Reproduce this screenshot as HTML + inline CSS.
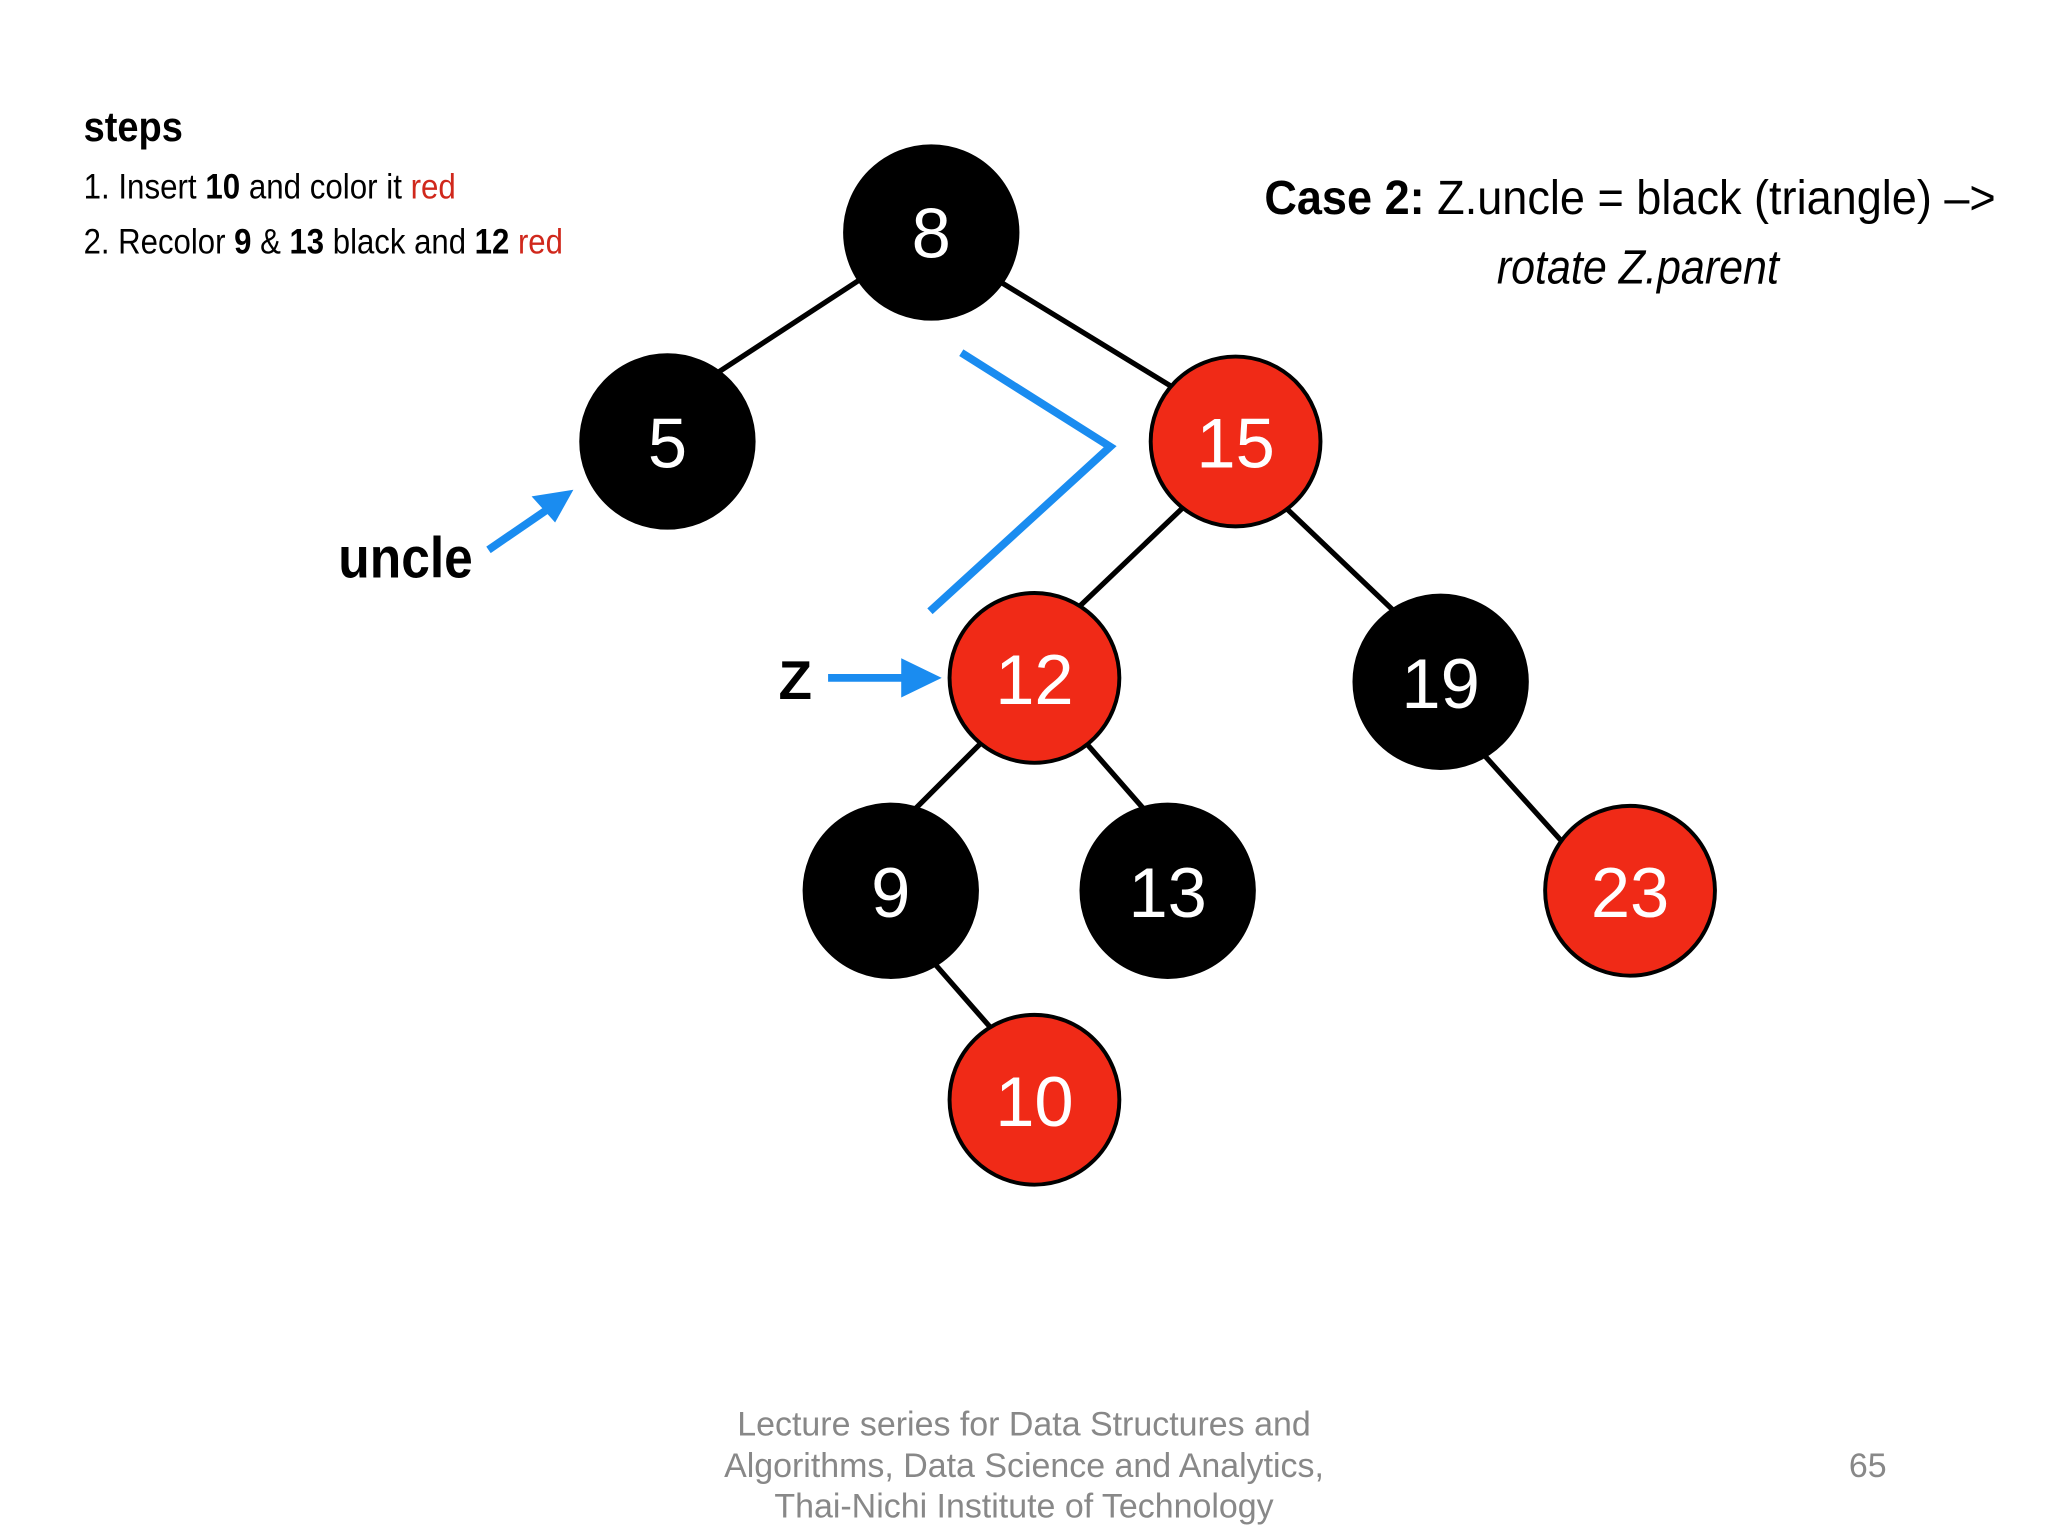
<!DOCTYPE html>
<html><head><meta charset="utf-8"><style>
html,body{margin:0;padding:0;background:#fff;}
svg{display:block;}
</style></head><body>
<svg width="2048" height="1536" viewBox="0 0 1568 1176" xmlns="http://www.w3.org/2000/svg" font-family="Liberation Sans, sans-serif">
<rect width="1568" height="1176" fill="#fff"/>
<text x="64" y="108" font-size="32" font-weight="bold" textLength="76" lengthAdjust="spacingAndGlyphs">steps</text>
<text x="64" y="152" font-size="27" textLength="285" lengthAdjust="spacingAndGlyphs">1. Insert <tspan font-weight="bold">10</tspan> and color it <tspan fill="#d0281c">red</tspan></text>
<text x="64" y="194" font-size="27" textLength="367" lengthAdjust="spacingAndGlyphs">2. Recolor <tspan font-weight="bold">9</tspan> &amp; <tspan font-weight="bold">13</tspan> black and <tspan font-weight="bold">12</tspan> <tspan fill="#d0281c">red</tspan></text>
<text x="968" y="164" font-size="37" textLength="560" lengthAdjust="spacingAndGlyphs"><tspan font-weight="bold">Case 2:</tspan>  Z.uncle = black (triangle) –&gt;</text>
<text x="1146" y="217" font-size="37" font-style="italic" textLength="216" lengthAdjust="spacingAndGlyphs">rotate Z.parent</text>
<g stroke="#000" stroke-width="4">
<line x1="680" y1="200" x2="530" y2="298"/>
<line x1="740" y1="200" x2="920" y2="310"/>
<line x1="920" y1="375" x2="810" y2="480"/>
<line x1="970" y1="375" x2="1080" y2="480"/>
<line x1="770" y1="550" x2="690" y2="630"/>
<line x1="815" y1="550" x2="885" y2="630"/>
<line x1="1120" y1="560" x2="1210" y2="660"/>
<line x1="700" y1="720" x2="770" y2="800"/>
</g>
<polyline points="736,270 850,342 712,468" fill="none" stroke="#1a8cf0" stroke-width="6"/>
<line x1="374" y1="421" x2="425" y2="386" stroke="#1a8cf0" stroke-width="6"/>
<polygon points="439,375 407,380 425,400" fill="#1a8cf0"/>
<line x1="634" y1="519" x2="700" y2="519" stroke="#1a8cf0" stroke-width="6"/>
<polygon points="721,519 690,504 690,534" fill="#1a8cf0"/>
<text x="259" y="442" font-size="44" font-weight="bold" textLength="103" lengthAdjust="spacingAndGlyphs">uncle</text>
<text x="596" y="535" font-size="42" font-weight="bold">Z</text>
<g stroke="#000" stroke-width="3">
<circle cx="713" cy="178" r="66" fill="#000"/>
<circle cx="511" cy="338" r="66" fill="#000"/>
<circle cx="946" cy="338" r="65" fill="#f02a17"/>
<circle cx="792" cy="519" r="65" fill="#f02a17"/>
<circle cx="1103" cy="522" r="66" fill="#000"/>
<circle cx="682" cy="682" r="66" fill="#000"/>
<circle cx="894" cy="682" r="66" fill="#000"/>
<circle cx="1248" cy="682" r="65" fill="#f02a17"/>
<circle cx="792" cy="842" r="65" fill="#f02a17"/>
</g>
<g fill="#fff" font-size="54" text-anchor="middle">
<text x="713" y="197">8</text>
<text x="511" y="358">5</text>
<text x="946" y="358">15</text>
<text x="792" y="539">12</text>
<text x="1103" y="542">19</text>
<text x="682" y="702">9</text>
<text x="894" y="702">13</text>
<text x="1248" y="702">23</text>
<text x="792" y="862">10</text>
</g>
<g fill="#888" font-size="26" text-anchor="middle">
<text x="784" y="1099">Lecture series for Data Structures and</text>
<text x="784" y="1131">Algorithms, Data Science and Analytics,</text>
<text x="784" y="1162">Thai-Nichi Institute of Technology</text>
<text x="1430" y="1131">65</text>
</g>
</svg>
</body></html>
